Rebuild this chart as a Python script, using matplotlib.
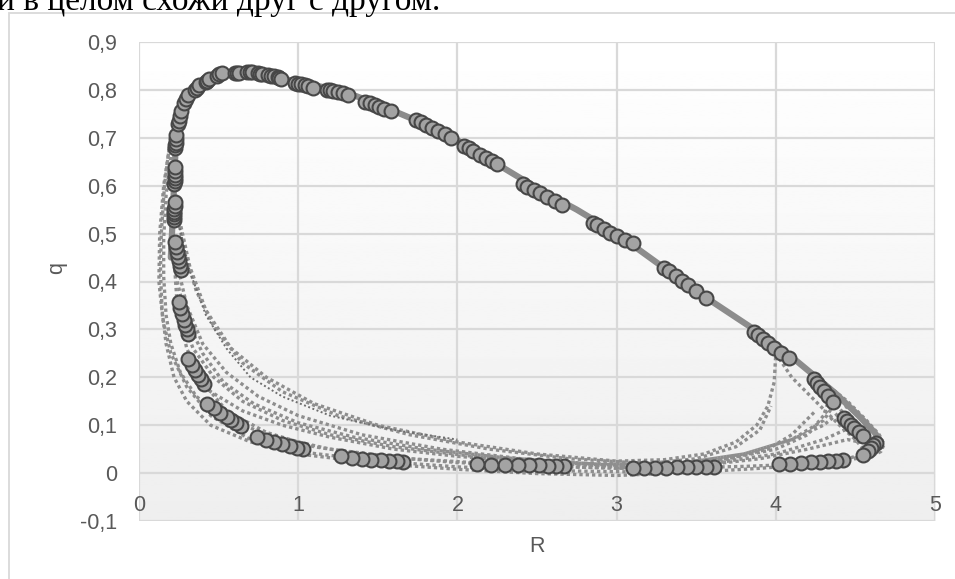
import numpy as np
import matplotlib
matplotlib.use("Agg")
from matplotlib import pyplot as plt
from matplotlib.patches import Rectangle

# axis ticks
x_ticks = [0, 1, 2, 3, 4, 5]
y_ticks = [-0.1, 0, 0.1, 0.2, 0.3, 0.4, 0.5, 0.6, 0.7, 0.8, 0.9]
y_labels = ["-0,1", "0", "0,1", "0,2", "0,3", "0,4", "0,5", "0,6", "0,7", "0,8", "0,9"]

# upper branch of the loop (looks solid because many series overlap)
top_R = [0.2, 0.21, 0.22, 0.23, 0.25, 0.28, 0.33, 0.4, 0.5, 0.62, 0.72, 0.82, 0.95, 1.1, 1.3, 1.5,
         1.75, 2.0, 2.25, 2.5, 2.75, 3.0, 3.25, 3.5, 3.75, 4.0, 4.2, 4.38, 4.52, 4.62, 4.66]
top_q = [0.45, 0.52, 0.6, 0.68, 0.73, 0.77, 0.8, 0.82, 0.833, 0.837, 0.837, 0.832, 0.82, 0.81, 0.795, 0.77,
         0.735, 0.695, 0.645, 0.595, 0.55, 0.5, 0.44, 0.38, 0.325, 0.27, 0.215, 0.165, 0.12, 0.085, 0.065]

# dotted return paths
paths = [
    ([4.66, 4.6, 4.45, 4.2, 3.9, 3.5, 3.0, 2.5, 2.0, 1.5, 1.0, 0.7, 0.45, 0.3, 0.2, 0.15, 0.125, 0.13, 0.155, 0.2],
     [0.065, 0.045, 0.03, 0.018, 0.01, 0.002, -0.005, -0.001, 0.008, 0.02, 0.04, 0.07, 0.12, 0.18, 0.25, 0.32, 0.4, 0.5, 0.6, 0.7]),
    ([0.19, 0.16, 0.14, 0.135, 0.145, 0.17, 0.22, 0.3, 0.45, 0.7, 1.0, 1.5, 2.0, 2.6, 3.2],
     [0.68, 0.6, 0.5, 0.42, 0.34, 0.27, 0.2, 0.15, 0.1, 0.065, 0.045, 0.025, 0.013, 0.005, 0.002]),
    ([0.2, 0.17, 0.155, 0.155, 0.17, 0.2, 0.26, 0.36, 0.52, 0.8, 1.2, 1.7, 2.2, 2.8, 3.4],
     [0.66, 0.58, 0.49, 0.41, 0.33, 0.27, 0.21, 0.16, 0.12, 0.08, 0.05, 0.03, 0.02, 0.012, 0.01]),
    ([4.55, 4.4, 4.1, 3.8, 3.4, 3.0, 2.5, 2.0, 1.5, 1.1, 0.8, 0.55, 0.4, 0.3, 0.24, 0.22],
     [0.035, 0.025, 0.018, 0.014, 0.011, 0.01, 0.015, 0.022, 0.035, 0.055, 0.085, 0.13, 0.19, 0.26, 0.35, 0.45]),
    ([0.22, 0.26, 0.32, 0.42, 0.58, 0.8, 1.1, 1.5, 2.0, 2.5, 3.0, 3.3, 3.55, 3.75, 3.88, 3.95, 3.99, 4.0],
     [0.62, 0.52, 0.43, 0.34, 0.26, 0.2, 0.145, 0.1, 0.065, 0.04, 0.025, 0.028, 0.04, 0.065, 0.1, 0.14, 0.19, 0.25]),
    ([0.22, 0.28, 0.36, 0.48, 0.65, 0.9, 1.25, 1.7, 2.2, 2.7, 3.2, 3.5, 3.75, 3.9, 3.97],
     [0.58, 0.47, 0.38, 0.3, 0.23, 0.17, 0.12, 0.08, 0.05, 0.03, 0.02, 0.03, 0.055, 0.09, 0.14]),
    ([0.23, 0.3, 0.4, 0.55, 0.75, 1.0, 1.4, 1.9, 2.4, 2.9, 3.4, 3.8, 4.1, 4.3, 4.4],
     [0.45, 0.35, 0.27, 0.21, 0.16, 0.12, 0.08, 0.05, 0.03, 0.018, 0.02, 0.04, 0.07, 0.11, 0.16]),
    ([0.24, 0.3, 0.4, 0.53, 0.72, 1.0, 1.35, 1.8, 2.3, 2.8, 3.3, 3.7, 3.95, 4.1, 4.25],
     [0.4, 0.32, 0.25, 0.19, 0.145, 0.105, 0.075, 0.05, 0.032, 0.02, 0.018, 0.03, 0.05, 0.08, 0.13]),
    ([0.26, 0.34, 0.47, 0.65, 0.9, 1.2, 1.6, 2.1, 2.6, 3.1, 3.6, 4.0, 4.3, 4.5],
     [0.33, 0.26, 0.2, 0.15, 0.11, 0.08, 0.055, 0.035, 0.022, 0.015, 0.02, 0.04, 0.07, 0.1]),
    ([0.3, 0.45, 0.65, 0.9, 1.2, 1.6, 2.0, 2.5, 3.0, 3.5, 3.9, 4.2, 4.45, 4.6],
     [0.22, 0.17, 0.13, 0.1, 0.075, 0.05, 0.035, 0.022, 0.014, 0.015, 0.03, 0.05, 0.07, 0.06]),
    ([4.35, 4.3, 4.2, 4.0, 3.7, 3.3], [0.17, 0.12, 0.08, 0.05, 0.03, 0.015]),
    ([4.0, 4.1, 4.25, 4.4, 4.5, 4.55], [0.25, 0.2, 0.15, 0.1, 0.07, 0.05]),
    ([3.0, 3.4, 3.8, 4.1, 4.3, 4.45], [0.01, 0.02, 0.04, 0.07, 0.1, 0.14]),
    ([4.3, 4.45, 4.57, 4.65, 4.68, 4.66, 4.6, 4.5, 4.35],
     [0.19, 0.15, 0.11, 0.08, 0.06, 0.045, 0.035, 0.03, 0.028]),
]
# single darker dotted line on the left
thin_R = [0.25, 0.32, 0.42, 0.55, 0.7, 0.9, 1.2, 1.6, 2.0]
thin_q = [0.52, 0.42, 0.33, 0.26, 0.2, 0.16, 0.12, 0.09, 0.07]

# marker clusters (back -> front)
cluster_R = [
    [0.218, 0.219, 0.22, 0.221, 0.222, 0.223, 0.224],
    [0.222, 0.223, 0.224, 0.225, 0.226, 0.227],
    [0.228, 0.229, 0.23, 0.231, 0.233],
    [0.245, 0.25, 0.255, 0.262],
    [0.285, 0.297, 0.31],
    [0.35, 0.365, 0.38],
    [0.42, 0.43, 0.44],
    [0.49, 0.505, 0.52],
    [0.6, 0.615, 0.63],
    [0.68, 0.695, 0.71],
    [0.75, 0.76, 0.77],
    [0.81, 0.83, 0.85],
    [0.87, 0.88, 0.89],
    [0.98, 1.0, 1.02, 1.04, 1.06, 1.09],
    [1.18, 1.2, 1.22, 1.25, 1.28, 1.31],
    [1.42, 1.45, 1.48, 1.51, 1.54, 1.58],
    [1.74, 1.77, 1.8, 1.84, 1.88, 1.92, 1.96],
    [2.04, 2.07, 2.1, 2.14, 2.18, 2.22, 2.25],
    [2.41, 2.44, 2.48, 2.52, 2.56, 2.61, 2.66],
    [2.85, 2.88, 2.92, 2.96, 3.0, 3.05, 3.1],
    [3.3, 3.33, 3.37, 3.41, 3.45, 3.5, 3.56],
    [3.86, 3.89, 3.92, 3.95, 3.99, 4.03, 4.08],
    [4.24, 4.26, 4.28, 4.3, 4.33, 4.36],
    [4.43, 4.45, 4.47, 4.49, 4.52, 4.55],
    [4.63, 4.61, 4.6, 4.58, 4.55],
    [4.42, 4.38, 4.33, 4.28, 4.22, 4.16, 4.09, 4.02],
    [3.61, 3.56, 3.5, 3.44, 3.38, 3.31, 3.24, 3.17, 3.1],
    [2.67, 2.62, 2.57, 2.51, 2.45, 2.38, 2.3, 2.21, 2.12],
    [1.66, 1.62, 1.57, 1.52, 1.46, 1.4, 1.34, 1.27],
    [1.03, 0.99, 0.95, 0.9, 0.85, 0.8, 0.74],
    [0.64, 0.61, 0.58, 0.55, 0.51, 0.47, 0.43],
    [0.41, 0.39, 0.37, 0.35, 0.33, 0.31],
    [0.31, 0.3, 0.29, 0.28, 0.27, 0.26, 0.25],
    [0.265, 0.258, 0.25, 0.243, 0.236, 0.23, 0.225],
]
cluster_q = [
    [0.528, 0.534, 0.54, 0.546, 0.552, 0.558, 0.566],
    [0.603, 0.609, 0.616, 0.623, 0.631, 0.64],
    [0.678, 0.684, 0.69, 0.697, 0.706],
    [0.728, 0.736, 0.745, 0.755],
    [0.772, 0.781, 0.79],
    [0.8, 0.805, 0.81],
    [0.816, 0.819, 0.822],
    [0.83, 0.833, 0.835],
    [0.835, 0.836, 0.836],
    [0.837, 0.837, 0.837],
    [0.835, 0.834, 0.834],
    [0.831, 0.83, 0.829],
    [0.826, 0.825, 0.822],
    [0.815, 0.813, 0.812, 0.81, 0.808, 0.805],
    [0.8, 0.799, 0.797, 0.795, 0.793, 0.79],
    [0.775, 0.772, 0.768, 0.765, 0.76, 0.755],
    [0.738, 0.733, 0.727, 0.72, 0.714, 0.707, 0.7],
    [0.683, 0.678, 0.672, 0.665, 0.658, 0.651, 0.645],
    [0.603, 0.598, 0.592, 0.585, 0.577, 0.568, 0.56],
    [0.522, 0.517, 0.51, 0.502, 0.495, 0.487, 0.48],
    [0.428, 0.421, 0.412, 0.402, 0.392, 0.38, 0.366],
    [0.295, 0.288, 0.28, 0.272, 0.262, 0.251, 0.24],
    [0.196, 0.188, 0.18, 0.171, 0.16, 0.149],
    [0.115, 0.108, 0.101, 0.094, 0.086, 0.077],
    [0.062, 0.058, 0.053, 0.047, 0.037],
    [0.027, 0.026, 0.025, 0.024, 0.023, 0.022, 0.02, 0.018],
    [0.012, 0.012, 0.012, 0.012, 0.012, 0.011, 0.011, 0.011, 0.011],
    [0.015, 0.015, 0.015, 0.016, 0.016, 0.016, 0.017, 0.017, 0.018],
    [0.024, 0.025, 0.026, 0.027, 0.028, 0.03, 0.032, 0.035],
    [0.05, 0.053, 0.056, 0.06, 0.064, 0.069, 0.075],
    [0.098, 0.104, 0.111, 0.118, 0.126, 0.135, 0.145],
    [0.187, 0.196, 0.205, 0.215, 0.226, 0.238],
    [0.29, 0.3, 0.31, 0.32, 0.332, 0.345, 0.357],
    [0.425, 0.433, 0.442, 0.452, 0.462, 0.472, 0.482],
]

label_color = "#595959"
plt.rcParams["font.family"] = ["Liberation Sans", "DejaVu Sans"]

fig = plt.figure(figsize=(9.55, 5.79), dpi=100)
fig.patch.set_facecolor("white")

# chart frame and cut-off sentence above it
fig.patches.append(Rectangle((9 / 955, -0.05), 1.1, 1 - 13 / 579 + 0.05, transform=fig.transFigure,
                             fill=False, edgecolor="#d9d9d9", linewidth=1.3))
fig.text(-0.003, 1 - 10 / 579, "и в целом схожи друг с другом.", fontsize=24,
         family=["Liberation Serif", "DejaVu Serif"], va="baseline", ha="left", color="black")

ax = fig.add_axes([139 / 955, 1 - 521 / 579, (935 - 139) / 955, (521 - 42) / 579])
ax.set_xlim(0, 5)
ax.set_ylim(-0.1, 0.9)

# plot area gradient
grad = np.linspace(0.935, 1.0, 256).reshape(-1, 1)
ax.imshow(grad, extent=[0, 5, -0.1, 0.9], origin="lower", aspect="auto", cmap="gray",
          vmin=0, vmax=1, zorder=0)

ax.set_xticks(x_ticks)
ax.set_yticks(y_ticks)
ax.set_yticklabels(y_labels)
ax.grid(True, color="#d9d9d9", linewidth=1.6, zorder=1)
ax.set_axisbelow(True)
for s in ax.spines.values():
    s.set_visible(False)
ax.spines["bottom"].set_position(("data", 0))
ax.tick_params(axis="both", length=0, labelsize=15.5, labelcolor=label_color)
ax.tick_params(axis="y", pad=16)
ax.tick_params(axis="x", pad=16)

# lines
for pr, pq in paths:
    ax.plot(pr, pq, linestyle=(0, (1, 0.9)), color="#8e8e8e", linewidth=2.4, zorder=2)
ax.plot(thin_R, thin_q, linestyle=(0, (1, 1.3)), color="#6e6e6e", linewidth=1.4, zorder=2)
ax.plot(top_R, top_q, color="#8c8c8c", linewidth=4.5, zorder=2, solid_capstyle="round")

# markers
for cr, cq in zip(cluster_R, cluster_q):
    ax.plot(cr, cq, linestyle="none", marker="o", markersize=10, markerfacecolor="#a3a3a3",
            markeredgecolor="#474747", markeredgewidth=1.5, zorder=3)

fig.text(57 / 955, 1 - 268 / 579, "q", rotation=90, fontsize=15.5, color=label_color,
         ha="center", va="center")
fig.text(537 / 955, 1 - 546 / 579, "R", fontsize=15.5, color=label_color, ha="center", va="center")

fig.savefig("out.png", dpi=100)
